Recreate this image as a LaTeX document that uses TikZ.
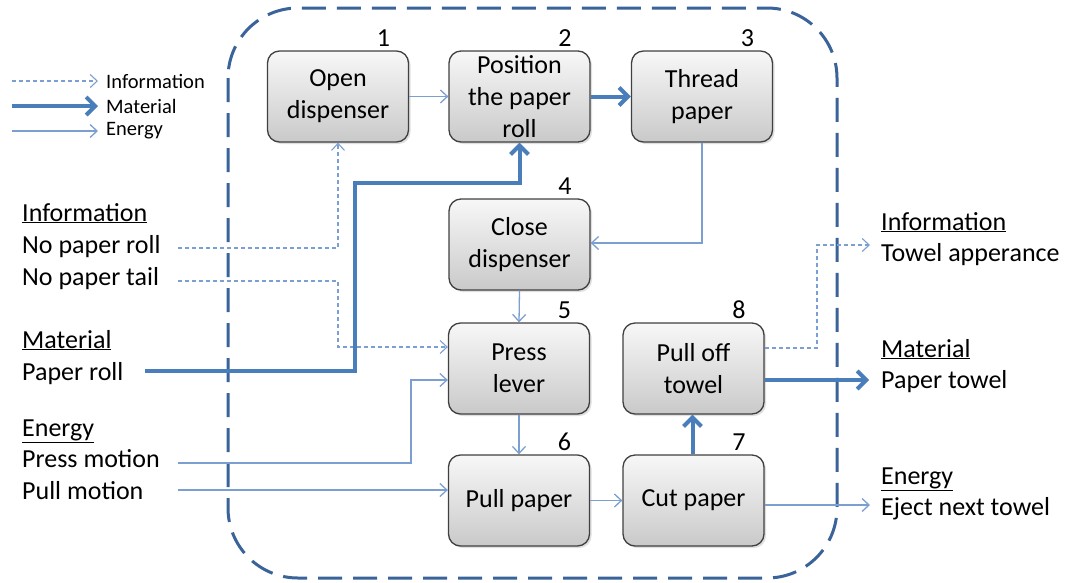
\documentclass[tikz,border=0pt]{standalone}
\usepackage{fontspec}
\setmainfont{Carlito}
\usetikzlibrary{arrows.meta,shadows}
\definecolor{thinblue}{HTML}{7A9FD0}
\definecolor{thickblue}{HTML}{4A7EBB}
\definecolor{borderblue}{HTML}{3A6399}
\definecolor{boxedge}{HTML}{404040}
\begin{document}
\begin{tikzpicture}[x=1pt,y=-1pt,
  stepbox/.style={draw=boxedge, line width=1.3pt, rounded corners=12pt,
    top color=gray!6, bottom color=gray!42, minimum width=141pt, minimum height=91pt,
    align=center, font=\fontsize{26}{32}\selectfont, inner sep=0pt,
    drop shadow={opacity=0.25, shadow xshift=2pt, shadow yshift=-2pt}},
  num/.style={anchor=base east, font=\fontsize{26}{31}\selectfont, inner sep=0pt},
  lbl/.style={anchor=base west, font=\fontsize{26}{31}\selectfont, inner sep=0pt},
  leg/.style={anchor=west, font=\fontsize{20.5}{24}\selectfont, inner sep=0pt},
  energy/.style={draw=thinblue, line width=1.3pt, -{Straight Barb[length=7pt,width=13pt]}},
  info/.style={draw=thinblue, line width=1.1pt, dash pattern=on 4pt off 3pt, -{Straight Barb[length=7pt,width=13pt]}},
  material/.style={draw=thickblue, line width=4pt, -{Straight Barb[length=9pt,width=18pt]}},
  border/.style={draw=borderblue, line width=3pt, dash pattern=on 24pt off 11pt, rounded corners=70pt}
]
\useasboundingbox (0,0) rectangle (1069,582);

% system border
\draw[border] (228,8) rectangle (837,578);

% legend
\coordinate (la1) at (12,81); \coordinate (lb1) at (98,81);
\coordinate (la2) at (12,106); \coordinate (lb2) at (98,106);
\coordinate (la3) at (12,131); \coordinate (lb3) at (98,131);
\draw[info] (la1) -- (lb1);
\draw[material] (la2) -- (lb2);
\draw[energy] (la3) -- (lb3);
\node[leg] (lt1) at (106,81) {Information};
\node[leg] (lt2) at (106,106) {Material};
\node[leg] (lt3) at (106,131) {Energy};

% boxes
\node[stepbox] (b1) at (338,96.5) {Open\\dispenser};
\node[stepbox] (b2) at (519.5,96.5) {Position\\the paper\\roll};
\node[stepbox] (b3) at (702,96.5) {Thread\\paper};
\node[stepbox] (b4) at (519.5,244.5) {Close\\dispenser};
\node[stepbox] (b5) at (519,368.5) {Press\\lever};
\node[stepbox] (b6) at (519,500.5) {Pull paper};
\node[stepbox] (b7) at (693.5,500.5) {Cut paper};
\node[stepbox] (b8) at (693.5,368.5) {Pull off\\towel};

% numbers
\foreach \b/\n in {b1/1,b2/2,b3/3,b4/4,b5/5,b6/6,b7/7,b8/8}{
  \node[num] (n\n) at ([xshift=-19pt,yshift=4pt]\b.north east) {\n};
}

% left labels
\node[lbl] (iL) at (22,221) {\underline{Information}};
\node[lbl] (iL1) at (22,253) {No paper roll};
\node[lbl] (iL2) at (22,285) {No paper tail};
\node[lbl] (mL) at (22,348) {\underline{Material}};
\node[lbl] (mL1) at (22,380) {Paper roll};
\node[lbl] (eL) at (22,436) {\underline{Energy}};
\node[lbl] (eL1) at (22,467) {Press motion};
\node[lbl] (eL2) at (22,499) {Pull motion};

% right labels
\node[lbl] (iR) at (881,230) {\underline{Information}};
\node[lbl] (iR1) at (881,261) {Towel apperance};
\node[lbl] (mR) at (881,357) {\underline{Material}};
\node[lbl] (mR1) at (881,388) {Paper towel};
\node[lbl] (eR) at (881,484) {\underline{Energy}};
\node[lbl] (eR1) at (881,515) {Eject next towel};

% input coordinates
\coordinate (inRoll) at (178,248);
\coordinate (inTail) at (178,281);
\coordinate (inPaper) at (145,371);
\coordinate (inPress) at (178,463);
\coordinate (inPull) at (178,490);
% output coordinates
\coordinate (outApp) at (870,245);
\coordinate (outTowel) at (869,380);
\coordinate (outEject) at (870,505);

% internal flows
\draw[energy] (b1.east) -- (b2.west);
\draw[material] (b2.east) -- (b3.west);
\draw[energy] (b3.south) |- ([yshift=1.5pt]b4.east);
\draw[energy] (b4.south) -- (b5.north);
\draw[energy] (b5.south) -- (b6.north);
\draw[energy] (b6.east) -- (b7.west);
\draw[material] ([xshift=-1pt]b7.north) -- ([xshift=-1pt]b8.south);

% inputs
\draw[info] (inRoll) -| (b1.south);
\draw[info] (inTail) -- (338,281) |- ([yshift=21.5pt]b5.west);
\draw[material] (inPaper) -- (355,371) -- (355,183) -| (b2.south);
\draw[energy] (inPress) -- (411,463) |- ([yshift=-11.5pt]b5.west);
\draw[energy] (inPull) -- ([yshift=10.5pt]b6.west);

% outputs
\draw[info] ([yshift=20.5pt]b8.east) -- (817,348) |- (outApp);
\draw[material] ([yshift=-11.5pt]b8.east) -- (outTowel);
\draw[energy] ([yshift=-4.5pt]b7.east) -- (outEject);
\end{tikzpicture}
\end{document}
